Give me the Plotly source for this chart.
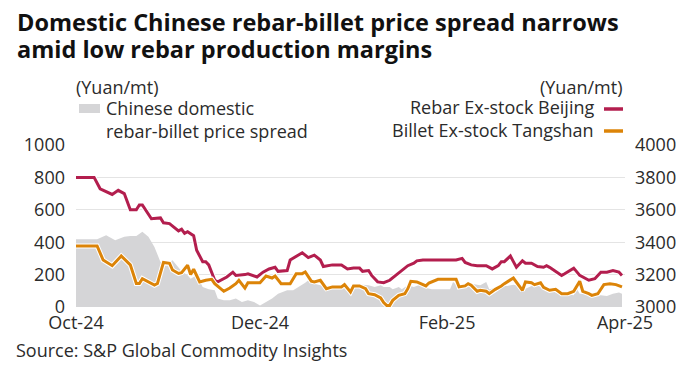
import plotly.graph_objects as go

# ---------------- data ----------------
rebar_dates = [
    "2024-10-01", "2024-10-07", "2024-10-09", "2024-10-10", "2024-10-13", "2024-10-15",
    "2024-10-17", "2024-10-19", "2024-10-21", "2024-10-22", "2024-10-23", "2024-10-26",
    "2024-10-29", "2024-10-30", "2024-11-01", "2024-11-04", "2024-11-05", "2024-11-06",
    "2024-11-07", "2024-11-09", "2024-11-10", "2024-11-12", "2024-11-13", "2024-11-14",
    "2024-11-16", "2024-11-17", "2024-11-20", "2024-11-22", "2024-11-23", "2024-11-26",
    "2024-11-27", "2024-11-30", "2024-12-02", "2024-12-04", "2024-12-06", "2024-12-07",
    "2024-12-10", "2024-12-11", "2024-12-13", "2024-12-15", "2024-12-17", "2024-12-19",
    "2024-12-21", "2024-12-22", "2024-12-25", "2024-12-28", "2024-12-30", "2025-01-01",
    "2025-01-03", "2025-01-04", "2025-01-06", "2025-01-07", "2025-01-09", "2025-01-11",
    "2025-01-13", "2025-01-15", "2025-01-17", "2025-01-19", "2025-01-21", "2025-01-22",
    "2025-01-24", "2025-02-04", "2025-02-06", "2025-02-07", "2025-02-09", "2025-02-11",
    "2025-02-14", "2025-02-16", "2025-02-18", "2025-02-19", "2025-02-20", "2025-02-22",
    "2025-02-23", "2025-02-24", "2025-02-26", "2025-02-27", "2025-03-01", "2025-03-03",
    "2025-03-05", "2025-03-06", "2025-03-07", "2025-03-09", "2025-03-11", "2025-03-12",
    "2025-03-15", "2025-03-17", "2025-03-20", "2025-03-22", "2025-03-24", "2025-03-26",
    "2025-03-28", "2025-03-30", "2025-03-31",
]
rebar_beijing = [
    3800, 3800, 3730, 3720, 3695, 3720,
    3700, 3600, 3600, 3630, 3630, 3545,
    3550, 3520, 3515, 3470, 3480, 3455,
    3465, 3440, 3350, 3280, 3280, 3260,
    3165, 3155, 3185, 3215, 3195, 3200,
    3205, 3185, 3215, 3235, 3245, 3220,
    3225, 3290, 3310, 3335, 3305, 3320,
    3290, 3250, 3260, 3260, 3235, 3240,
    3240, 3220, 3225, 3195, 3155, 3150,
    3165, 3195, 3225, 3255, 3270, 3285,
    3290, 3290, 3300, 3275, 3260, 3255,
    3255, 3235, 3255, 3280, 3280, 3315,
    3280, 3245, 3285, 3270, 3270, 3250,
    3245, 3255, 3245, 3220, 3195, 3205,
    3240, 3195, 3165, 3175, 3215, 3215,
    3225, 3215, 3195,
]

billet_dates = [
    "2024-10-01", "2024-10-08", "2024-10-10", "2024-10-13", "2024-10-16", "2024-10-19",
    "2024-10-21", "2024-10-22", "2024-10-23", "2024-10-27", "2024-10-28", "2024-10-30",
    "2024-11-01", "2024-11-02", "2024-11-04", "2024-11-05", "2024-11-07", "2024-11-08",
    "2024-11-09", "2024-11-10", "2024-11-11", "2024-11-13", "2024-11-15", "2024-11-16",
    "2024-11-19", "2024-11-21", "2024-11-23", "2024-11-24", "2024-11-26", "2024-11-27",
    "2024-11-29", "2024-12-01", "2024-12-03", "2024-12-05", "2024-12-06", "2024-12-08",
    "2024-12-11", "2024-12-13", "2024-12-15", "2024-12-16", "2024-12-18", "2024-12-19",
    "2024-12-21", "2024-12-23", "2024-12-25", "2024-12-28", "2024-12-29", "2024-12-31",
    "2025-01-01", "2025-01-03", "2025-01-05", "2025-01-06", "2025-01-08", "2025-01-10",
    "2025-01-11", "2025-01-12", "2025-01-13", "2025-01-14", "2025-01-16", "2025-01-18",
    "2025-01-19", "2025-01-20", "2025-01-22", "2025-01-24", "2025-01-25", "2025-01-26",
    "2025-01-29", "2025-02-04", "2025-02-05", "2025-02-07", "2025-02-08", "2025-02-09",
    "2025-02-11", "2025-02-12", "2025-02-14", "2025-02-15", "2025-02-17", "2025-02-19",
    "2025-02-20", "2025-02-23", "2025-02-24", "2025-02-26", "2025-02-27", "2025-03-01",
    "2025-03-02", "2025-03-04", "2025-03-05", "2025-03-07", "2025-03-09", "2025-03-11",
    "2025-03-13", "2025-03-15", "2025-03-17", "2025-03-18", "2025-03-20", "2025-03-21",
    "2025-03-23", "2025-03-25", "2025-03-27", "2025-03-29", "2025-03-31",
]
billet_tangshan = [
    3377, 3377, 3290, 3255, 3315, 3260,
    3145, 3145, 3175, 3135, 3145, 3275,
    3270, 3228, 3207, 3212, 3258, 3200,
    3233, 3196, 3155, 3165, 3171, 3144,
    3097, 3117, 3144, 3165, 3117, 3150,
    3150, 3150, 3191, 3179, 3191, 3144,
    3144, 3206, 3206, 3216, 3160, 3155,
    3165, 3113, 3124, 3124, 3138, 3093,
    3130, 3130, 3113, 3082, 3076, 3056,
    3027, 3010, 3010, 3041, 3072, 3082,
    3113, 3159, 3155, 3138, 3130, 3148,
    3171, 3171, 3124, 3130, 3144, 3134,
    3097, 3103, 3097, 3082, 3109, 3130,
    3144, 3179, 3155, 3103, 3155, 3150,
    3138, 3150, 3122, 3103, 3109, 3082,
    3082, 3097, 3159, 3097, 3082, 3072,
    3082, 3138, 3144, 3138, 3124,
]

spread_dates = [
    "2024-10-01", "2024-10-08", "2024-10-11", "2024-10-12", "2024-10-14", "2024-10-17",
    "2024-10-19", "2024-10-21", "2024-10-23", "2024-10-25", "2024-10-27", "2024-10-29",
    "2024-11-01", "2024-11-02", "2024-11-04", "2024-11-05", "2024-11-07", "2024-11-08",
    "2024-11-10", "2024-11-12", "2024-11-14", "2024-11-16", "2024-11-17", "2024-11-19",
    "2024-11-21", "2024-11-23", "2024-11-25", "2024-11-27", "2024-11-29", "2024-12-01",
    "2024-12-03", "2024-12-05", "2024-12-07", "2024-12-10", "2024-12-12", "2024-12-14",
    "2024-12-16", "2024-12-17", "2024-12-19", "2024-12-21", "2024-12-24", "2024-12-26",
    "2024-12-28", "2024-12-30", "2025-01-01", "2025-01-04", "2025-01-06", "2025-01-08",
    "2025-01-10", "2025-01-11", "2025-01-13", "2025-01-14", "2025-01-16", "2025-01-17",
    "2025-01-19", "2025-01-21", "2025-01-23", "2025-01-25", "2025-01-27", "2025-01-29",
    "2025-02-02", "2025-02-03", "2025-02-05", "2025-02-07", "2025-02-09", "2025-02-12",
    "2025-02-14", "2025-02-15", "2025-02-17", "2025-02-19", "2025-02-21", "2025-02-23",
    "2025-02-25", "2025-02-27", "2025-03-01", "2025-03-03", "2025-03-05", "2025-03-06",
    "2025-03-08", "2025-03-10", "2025-03-12", "2025-03-15", "2025-03-16", "2025-03-17",
    "2025-03-20", "2025-03-22", "2025-03-24", "2025-03-26", "2025-03-28", "2025-03-30",
    "2025-03-31",
]
rebar_billet_spread = [
    418, 418, 443, 433, 412, 433,
    439, 439, 464, 433, 371, 278,
    278, 288, 247, 220, 196, 175,
    196, 124, 109, 103, 52, 41,
    41, 52, 31, 41, 31, 10,
    31, 52, 82, 103, 103, 124,
    150, 165, 144, 134, 130, 134,
    124, 124, 117, 138, 134, 124,
    134, 124, 124, 109, 124, 109,
    134, 124, 138, 118, 109, 109,
    109, 155, 124, 134, 144, 134,
    155, 109, 117, 134, 130, 138,
    130, 113, 130, 134, 113, 103,
    97, 82, 82, 72, 113, 82,
    82, 72, 72, 68, 82, 89,
    82,
]

x_ticks = ["2024-10-01", "2024-12-01", "2025-02-01", "2025-04-01"]
x_tick_labels = ["Oct-24", "Dec-24", "Feb-25", "Apr-25"]
left_ticks = [0, 200, 400, 600, 800, 1000]
right_ticks = [3000, 3200, 3400, 3600, 3800, 4000]

# ---------------- styling ----------------
W, H = 695, 367
L, R, T, B = 76, 625, 145, 307  # plot area in pixels
RED = "#B31E4E"
ORANGE = "#DC8408"
GREY = "#D5D5D7"
TXT = "#2b2b2b"
FONT = "Open Sans"
FS = 18


def px(x):
    return (x - L) / (R - L)


def py(y):
    return (B - y) / (B - T)


fig = go.Figure()
fig.add_trace(go.Scatter(
    x=spread_dates, y=rebar_billet_spread, mode="lines", fill="tozeroy",
    fillcolor=GREY, line=dict(width=0, color=GREY), yaxis="y",
    name="Chinese domestic rebar-billet price spread", hoverinfo="x+y",
))
for d, v, c, n in [(rebar_dates, rebar_beijing, RED, "Rebar Ex-stock Beijing"),
                   (billet_dates, billet_tangshan, ORANGE, "Billet Ex-stock Tangshan")]:
    fig.add_trace(go.Scatter(x=d, y=v, mode="lines", yaxis="y2",
                             line=dict(color="white", width=5), hoverinfo="skip",
                             showlegend=False))
    fig.add_trace(go.Scatter(x=d, y=v, mode="lines", yaxis="y2",
                             line=dict(color=c, width=3), name=n))

fig.update_layout(
    width=W, height=H,
    margin=dict(l=L, r=W - R, t=T, b=H - B),
    paper_bgcolor="white", plot_bgcolor="white",
    showlegend=False,
    font=dict(family=FONT, size=FS, color=TXT),
    xaxis=dict(
        type="date", range=["2024-10-01", "2025-04-01"],
        tickvals=x_ticks, ticktext=x_tick_labels,
        showgrid=False, zeroline=False, showline=False, ticks="",
        tickfont=dict(size=FS, color=TXT), ticklabelstandoff=3,
    ),
    yaxis=dict(
        range=[0, 1000], tickvals=left_ticks, showgrid=True,
        gridcolor="#E4E4E4", gridwidth=1, zeroline=False, showline=False,
        ticks="", tickfont=dict(size=FS, color=TXT), ticklabelstandoff=10,
    ),
    yaxis2=dict(
        range=[3000, 4000], tickvals=right_ticks, overlaying="y", side="right",
        showgrid=False, zeroline=False, showline=False, ticks="",
        tickfont=dict(size=FS, color=TXT), ticklabelstandoff=9,
    ),
)

ann = []
ann.append(dict(text="<b>Domestic Chinese rebar-billet price spread narrows</b>",
                x=px(15), y=py(22), xanchor="left", yanchor="middle",
                font=dict(size=23.5, color="#111", family=FONT)))
ann.append(dict(text="<b>amid low rebar production margins</b>",
                x=px(15), y=py(49), xanchor="left", yanchor="middle",
                font=dict(size=23.5, color="#111", family=FONT)))
ann.append(dict(text="(Yuan/mt)", x=px(74), y=py(87), xanchor="left", yanchor="middle"))
ann.append(dict(text="Chinese domestic", x=px(104), y=py(108), xanchor="left", yanchor="middle"))
ann.append(dict(text="rebar-billet price spread", x=px(104), y=py(131), xanchor="left", yanchor="middle"))
ann.append(dict(text="(Yuan/mt)", x=px(624), y=py(87), xanchor="right", yanchor="middle"))
ann.append(dict(text="Rebar Ex-stock Beijing", x=px(596), y=py(107), xanchor="right", yanchor="middle"))
ann.append(dict(text="Billet Ex-stock Tangshan", x=px(596), y=py(130), xanchor="right", yanchor="middle"))
ann.append(dict(text="Source: S&P Global Commodity Insights", x=px(14), y=py(350),
                xanchor="left", yanchor="middle"))
for a in ann:
    a.update(xref="paper", yref="paper", showarrow=False)
    a.setdefault("font", dict(size=FS, color=TXT, family=FONT))
fig.update_layout(annotations=ann)

shapes = [
    dict(type="rect", x0=px(79), x1=px(100), y0=py(113), y1=py(104),
         fillcolor=GREY, line=dict(width=0)),
    dict(type="line", x0=px(604), x1=px(623), y0=py(109), y1=py(109),
         line=dict(color=RED, width=3.5)),
    dict(type="line", x0=px(604), x1=px(623), y0=py(131), y1=py(131),
         line=dict(color=ORANGE, width=3.5)),
]
for s in shapes:
    s.update(xref="paper", yref="paper")
fig.update_layout(shapes=shapes)

fig.write_html(
    "out.html",
    config={"displayModeBar": False, "staticPlot": True},
    post_script="document.body.style.margin='0';document.body.style.overflow='hidden';",
)
